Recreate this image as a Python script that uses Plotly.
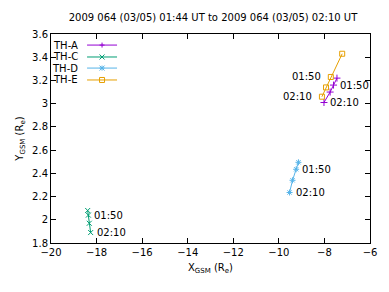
import plotly.graph_objects as go

# ---- data (GSM positions, Re) ----
times = ["01:44", "01:50", "02:00", "02:10"]
labelled = ["01:50", "02:10"]

tha_x = [-7.45, -7.60, -7.75, -8.02]
tha_y = [3.22, 3.16, 3.10, 3.01]

thc_x = [-18.39, -18.36, -18.32, -18.26]
thc_y = [2.08, 2.04, 1.97, 1.89]

thd_x = [-9.14, -9.24, -9.40, -9.53]
thd_y = [2.495, 2.435, 2.34, 2.235]

the_x = [-7.22, -7.72, -7.93, -8.11]
the_y = [3.43, 3.23, 3.14, 3.06]

names = ["TH-A", "TH-C", "TH-D", "TH-E"]
colors = ["#9400d3", "#009e73", "#56b4e9", "#e69f00"]
symbols = ["cross-thin-open", "x-thin-open", "asterisk-open", "square-open"]
label_left = [False, False, False, True]

xs = [tha_x, thc_x, thd_x, the_x]
ys = [tha_y, thc_y, thd_y, the_y]

FONT = "DejaVu Sans"

fig = go.Figure()
for name, x, y, c, s in zip(names, xs, ys, colors, symbols):
    fig.add_trace(go.Scatter(
        x=x, y=y, mode="lines+markers", name=name, showlegend=False,
        line=dict(color=c, width=1),
        marker=dict(symbol=s, size=5, color=c, line=dict(color=c, width=1)),
    ))

annotations = []
# time labels next to the 01:50 and 02:10 positions
idx = [times.index(t) for t in labelled]
for x, y, left in zip(xs, ys, label_left):
    for i, t in zip(idx, labelled):
        annotations.append(dict(
            x=x[i], y=y[i], xref="x", yref="y", text=t, showarrow=False,
            xanchor="right" if left else "left", yanchor="middle",
            xshift=-8 if left else 4,
            font=dict(family=FONT, size=10, color="black")))

# manual gnuplot-style key (text left, sample right)
rows = [0.947, 0.890, 0.837, 0.780]
shapes = []


def glyph(kind, cx, cy, c):
    """small pixel-sized key symbol centred on paper point (cx, cy)"""
    base = dict(xref="paper", yref="paper", xsizemode="pixel", ysizemode="pixel",
                xanchor=cx, yanchor=cy, line=dict(color=c, width=1))
    r = 2.5
    segs = {
        "plus": [(-r, 0, r, 0), (0, -r, 0, r)],
        "x": [(-r, -r, r, r), (-r, r, r, -r)],
        "star": [(-r, 0, r, 0), (0, -r, 0, r), (-r, -r, r, r), (-r, r, r, -r)],
    }
    if kind == "square":
        return [dict(type="rect", x0=-r, x1=r, y0=-r, y1=r, **base)]
    return [dict(type="line", x0=a, y0=b, x1=cc, y1=d, **base) for a, b, cc, d in segs[kind]]


kinds = ["plus", "x", "star", "square"]
for name, c, k, yy in zip(names, colors, kinds, rows):
    annotations.append(dict(x=0.091, y=yy, xref="paper", yref="paper", text=name,
                            showarrow=False, xanchor="right", yanchor="middle",
                            font=dict(family=FONT, size=10, color="black")))
    shapes.append(dict(type="line", xref="paper", yref="paper", x0=0.113, x1=0.207,
                       y0=yy, y1=yy, line=dict(color=c, width=1)))
    shapes.extend(glyph(k, 0.16, yy, c))

# page body has an 8px margin: shrink figure so plot area lands at x 51..370, y 34..243
fig.update_layout(
    width=381, height=284,
    margin=dict(l=43, r=19, t=26, b=49),
    paper_bgcolor="white", plot_bgcolor="white",
    font=dict(family=FONT, size=10, color="black"),
    title=dict(text="2009 064 (03/05) 01:44 UT to 2009 064 (03/05) 02:10 UT",
               x=0.538, xanchor="center", y=0.968, yanchor="middle",
               font=dict(family=FONT, size=10, color="black")),
    annotations=annotations, shapes=shapes,
    showlegend=False,
)
axis_common = dict(showline=True, linecolor="black", linewidth=1, mirror="ticks",
                   ticks="inside", ticklen=5, tickcolor="black", showgrid=False,
                   zeroline=False, tickfont=dict(family=FONT, size=10, color="black"))
fig.update_xaxes(range=[-20, -6], dtick=2, tick0=-20,
                 title=dict(text="X<sub>GSM</sub> (R<sub>e</sub>)", standoff=6,
                            font=dict(family=FONT, size=10)), **axis_common)
fig.update_yaxes(range=[1.8, 3.6], dtick=0.2, tick0=1.8,
                 title=dict(text="Y<sub>GSM</sub> (R<sub>e</sub>)", standoff=6,
                            font=dict(family=FONT, size=10)), **axis_common)

fig.write_html("out.html")
